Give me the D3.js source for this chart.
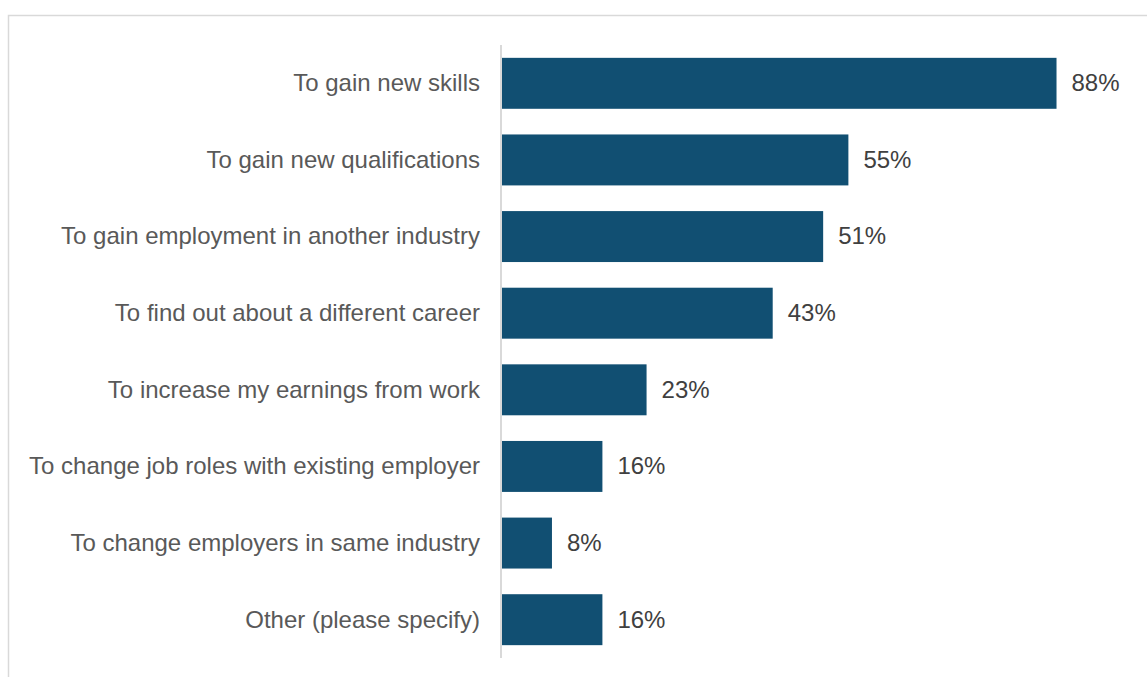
<!DOCTYPE html>
<html>
<head>
<meta charset="utf-8">
<script src="https://cdn.jsdelivr.net/npm/d3@7"></script>
<style>
  html, body { margin: 0; padding: 0; background: #fff; }
  svg { display: block; }
</style>
</head>
<body>
<svg id="chart" width="1147" height="677"></svg>
<script>
// Reasons for taking up training
const categories = [
  "To gain new skills",
  "To gain new qualifications",
  "To gain employment in another industry",
  "To find out about a different career",
  "To increase my earnings from work",
  "To change job roles with existing employer",
  "To change employers in same industry",
  "Other (please specify)"
];
const values = [88, 55, 51, 43, 23, 16, 8, 16];
const valueLabels = ["88%", "55%", "51%", "43%", "23%", "16%", "8%", "16%"];

const svg = d3.select("#chart");
const W = 1147, H = 677;
const font = "'Liberation Sans', Arial, sans-serif";

// outer chart frame
svg.append("rect")
  .attr("x", 8.5).attr("y", 15.5)
  .attr("width", W + 20).attr("height", H + 20)
  .attr("fill", "none")
  .attr("stroke", "#d9d9d9")
  .attr("stroke-width", 1.5);

const x = d3.scaleLinear().domain([0, 100]).range([501.5, 1132.2]);
const y = d3.scaleBand().domain(categories).range([45, 658]).paddingInner(0.335).paddingOuter(0.1675);

// bars
svg.append("g").selectAll("rect")
  .data(values)
  .join("rect")
  .attr("x", x(0))
  .attr("y", (d, i) => y(categories[i]))
  .attr("width", d => x(d) - x(0))
  .attr("height", y.bandwidth())
  .attr("fill", "#114f72");

// category axis
const axis = svg.append("g")
  .attr("transform", `translate(${x(0) - 0.5},0)`)
  .call(d3.axisLeft(y).tickSize(0).tickPadding(21));
axis.select(".domain")
  .attr("d", "M0,45V658")
  .attr("stroke", "#d9d9d9")
  .attr("stroke-width", 2);
axis.selectAll("text")
  .attr("font-family", font)
  .attr("font-size", "24px")
  .attr("fill", "#595959")
  .attr("dy", "0.33em");

// value labels
svg.append("g").selectAll("text")
  .data(values)
  .join("text")
  .attr("x", d => x(d) + 15)
  .attr("y", (d, i) => y(categories[i]) + y.bandwidth() / 2)
  .attr("dy", "0.33em")
  .attr("font-family", font)
  .attr("font-size", "24px")
  .attr("fill", "#404040")
  .text((d, i) => valueLabels[i]);
</script>
</body>
</html>
